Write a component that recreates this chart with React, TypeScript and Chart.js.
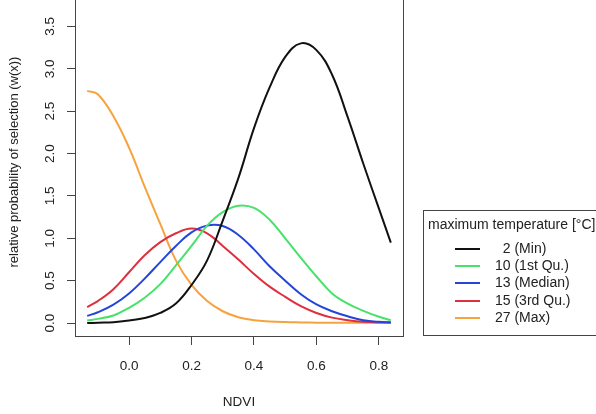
import { useEffect, useRef } from 'react';
import { Chart, registerables } from 'chart.js';

Chart.register(...registerables);

// NDVI values at which the selection curves are evaluated
const ndvi = [-0.134, -0.1, -0.05, 0, 0.05, 0.1, 0.15, 0.2, 0.25, 0.3, 0.35, 0.4, 0.45, 0.5, 0.55, 0.6, 0.65, 0.7, 0.75, 0.8, 0.838];

// relative probability of selection w(x) for each maximum temperature
const wMin = [0.0, 0.005, 0.01, 0.03, 0.06, 0.12, 0.23, 0.45, 0.74, 1.21, 1.71, 2.3, 2.78, 3.14, 3.3, 3.22, 2.93, 2.43, 1.88, 1.35, 0.95];
const wQ1 = [0.03, 0.05, 0.09, 0.18, 0.3, 0.46, 0.68, 0.91, 1.15, 1.31, 1.385, 1.36, 1.22, 1.0, 0.77, 0.55, 0.35, 0.23, 0.145, 0.075, 0.035];
const wMedian = [0.085, 0.128, 0.218, 0.35, 0.525, 0.72, 0.91, 1.07, 1.15, 1.145, 1.04, 0.87, 0.67, 0.5, 0.34, 0.22, 0.14, 0.08, 0.035, 0.015, 0.01];
const wQ3 = [0.19, 0.26, 0.4, 0.6, 0.8, 0.955, 1.06, 1.115, 1.06, 0.91, 0.75, 0.58, 0.43, 0.31, 0.2, 0.12, 0.065, 0.035, 0.015, 0.008, 0.005];
const wMax = [2.74, 2.7, 2.44, 2.07, 1.61, 1.17, 0.74, 0.45, 0.26, 0.14, 0.07, 0.035, 0.02, 0.012, 0.008, 0.005, 0.004, 0.003, 0.003, 0.003, 0.003];

const seriesValues = [wMin, wQ1, wMedian, wQ3, wMax];
const seriesLabels = ['  2 (Min)', '10 (1st Qu.)', '13 (Median)', '15 (3rd Qu.)', '27 (Max)'];
const seriesColors = ['#111111', '#46e26a', '#2545da', '#de2f3f', '#f6a33e'];
const legendTitle = 'maximum temperature [\u00B0C]';

const xTicks = [0, 0.2, 0.4, 0.6, 0.8];
const yTicks = [0, 0.5, 1, 1.5, 2, 2.5, 3, 3.5];

const FONT = '"Liberation Sans", Arial, Helvetica, sans-serif';
const TOP_SHIFT = 27;

// draws the plot box and the legend panel to the right of it
const framePlugin = {
  id: 'frameAndLegend',
  afterDraw(chart: any) {
    const { ctx, chartArea: a } = chart;
    ctx.save();
    ctx.strokeStyle = '#444';
    ctx.lineWidth = 1;
    ctx.strokeRect(Math.round(a.left) + 0.5, Math.round(a.top) + 0.5, Math.round(a.right - a.left), Math.round(a.bottom - a.top));

    const boxLeft = Math.round(a.right) + 20;
    const boxTop = Math.round(a.bottom) - 126;
    const boxBottom = Math.round(a.bottom) - 1;
    ctx.strokeRect(boxLeft + 0.5, boxTop + 0.5, 200, boxBottom - boxTop);

    ctx.font = `14px ${FONT}`;
    ctx.fillStyle = '#222';
    ctx.textBaseline = 'middle';
    ctx.textAlign = 'left';
    ctx.fillText(legendTitle, boxLeft + 5, boxTop + 15);

    const firstY = boxTop + 39;
    const step = 17.2;
    seriesLabels.forEach((lab, i) => {
      const y = Math.round(firstY + i * step);
      ctx.strokeStyle = seriesColors[i];
      ctx.lineWidth = 2;
      ctx.beginPath();
      ctx.moveTo(boxLeft + 32, y);
      ctx.lineTo(boxLeft + 57, y);
      ctx.stroke();
      ctx.fillText(lab, boxLeft + 72, y);
    });
    ctx.restore();
  },
};

export default function App() {
  const canvasRef = useRef<HTMLCanvasElement | null>(null);

  useEffect(() => {
    const canvas = canvasRef.current;
    if (!canvas) return;
    const chart = new Chart(canvas, {
      type: 'line',
      data: {
        datasets: seriesValues.map((vals, i) => ({
          label: seriesLabels[i],
          data: ndvi.map((x, j) => ({ x, y: vals[j] })),
          borderColor: seriesColors[i],
          borderWidth: 2,
          pointRadius: 0,
          fill: false,
          tension: 0.4,
        })),
      },
      options: {
        animation: false,
        responsive: false,
        devicePixelRatio: 1,
        layout: { padding: { left: 0, right: 193, top: 0, bottom: 0 }, autoPadding: false },
        plugins: { legend: { display: false }, tooltip: { enabled: false } },
        scales: {
          x: {
            type: 'linear',
            min: -0.173,
            max: 0.877,
            afterFit: (s: any) => { s.height = 78; },
            afterBuildTicks: (s: any) => { s.ticks = xTicks.map((v) => ({ value: v })); },
            grid: { drawOnChartArea: false, drawTicks: true, tickLength: 9, color: '#444' },
            border: { display: false },
            ticks: {
              font: { family: FONT, size: 13.5 },
              color: '#222',
              padding: 13,
              maxRotation: 0,
              callback: (v: any) => Number(v).toFixed(1),
            },
            title: {
              display: true,
              text: 'NDVI',
              font: { family: FONT, size: 13.5 },
              color: '#222',
              padding: { top: 4, bottom: 4 },
            },
          },
          y: {
            type: 'linear',
            min: -0.152,
            max: 3.952,
            afterFit: (s: any) => { s.width = 75; },
            afterBuildTicks: (s: any) => { s.ticks = yTicks.map((v) => ({ value: v })); },
            grid: { drawOnChartArea: false, drawTicks: true, tickLength: 8, color: '#444' },
            border: { display: false },
            ticks: {
              font: { family: FONT, size: 13.5 },
              color: '#222',
              padding: 7,
              minRotation: 90,
              maxRotation: 90,
              crossAlign: 'center',
              callback: (v: any) => Number(v).toFixed(1),
            },
            title: {
              display: true,
              text: 'relative probability of selection (w(x))',
              font: { family: FONT, size: 13 },
              color: '#222',
              padding: { top: 7, bottom: 7 },
            },
          },
        },
      },
      plugins: [framePlugin],
    });
    return () => chart.destroy();
  }, []);

  return (
    <div style={{ position: 'fixed', left: 0, top: 0, width: 596, height: 414, overflow: 'hidden', background: '#fff' }}>
      <canvas
        ref={canvasRef}
        width={596}
        height={414 + TOP_SHIFT}
        style={{ position: 'absolute', left: 0, top: -TOP_SHIFT, width: 596, height: 414 + TOP_SHIFT }}
      />
    </div>
  );
}
